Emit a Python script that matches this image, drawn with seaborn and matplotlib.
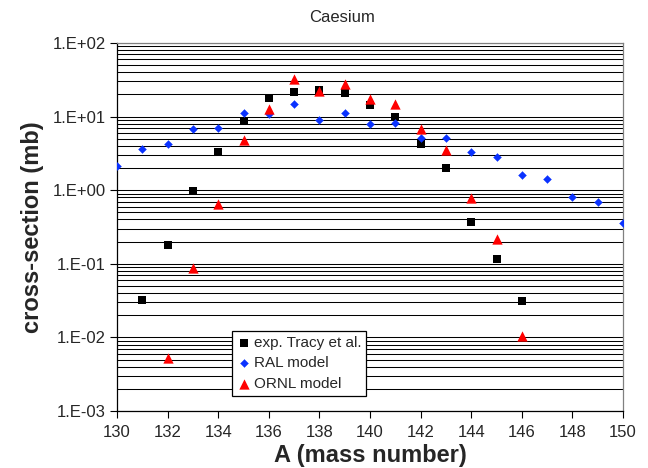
import numpy as np
import pandas as pd
import matplotlib
matplotlib.use("Agg")
import matplotlib.pyplot as plt
import matplotlib.ticker as mticker
import seaborn as sns

# ---- data ----
A_exp = [131, 132, 133, 134, 135, 136, 137, 138, 139, 140, 141, 142, 143, 144, 145, 146]
xs_exp = [0.0325, 0.18, 0.97, 3.3, 8.7, 17.7, 21.8, 23.0, 21.0, 14.4, 10.0, 4.25, 2.02, 0.366, 0.116, 0.0315]

A_ral = [130, 131, 132, 133, 134, 135, 136, 137, 138, 139, 140,
         141, 142, 143, 144, 145, 146, 147, 148, 149, 150]
xs_ral = [2.15, 3.6, 4.2, 6.7, 7.1, 11.3, 10.8, 14.7, 9.0, 11.1, 7.9,
          8.1, 5.2, 5.2, 3.3, 2.85, 1.59, 1.43, 0.81, 0.69, 0.362]

A_ornl = [132, 133, 134, 135, 136, 137, 138, 139, 140, 141, 142, 143, 144, 145, 146]
xs_ornl = [0.0052, 0.087, 0.65, 4.8, 12.6, 32.4, 22.5, 27.7, 17.3, 14.8, 6.85, 3.5, 0.78, 0.215, 0.0105]

labels = ["exp. Tracy et al.", "RAL model", "ORNL model"]
x_ticks = list(range(130, 151, 2))
title = "Caesium"
xlabel = "A (mass number)"
ylabel = "cross-section (mb)"

sns.set_style("white")
plt.rcParams['font.family'] = ['Liberation Sans', 'DejaVu Sans']

fig = plt.figure(figsize=(6.48, 4.68), dpi=100)
ax = fig.add_axes([117/648, 1 - 411/468, (623-117)/648, (411-43)/468])

df_exp = pd.DataFrame({"A": A_exp, "xs": xs_exp})
df_ral = pd.DataFrame({"A": A_ral, "xs": xs_ral})
df_ornl = pd.DataFrame({"A": A_ornl, "xs": xs_ornl})

sns.scatterplot(data=df_exp, x="A", y="xs", ax=ax, marker="s", s=40, color="black",
                edgecolor="black", linewidth=0, label=labels[0], zorder=3)
sns.scatterplot(data=df_ral, x="A", y="xs", ax=ax, marker="D", s=16, color="#0a32ff",
                edgecolor="#0a32ff", linewidth=0.3, label=labels[1], zorder=4)
sns.scatterplot(data=df_ornl, x="A", y="xs", ax=ax, marker="^", s=55, color="#ff0000",
                edgecolor="#ff0000", linewidth=0, label=labels[2], zorder=5)

ax.set_yscale("log")
ax.set_ylim(1e-3, 1e2)
ax.set_xlim(130, 150)
ax.set_xticks(x_ticks)
ax.set_xticklabels([str(t) for t in x_ticks])

ax.yaxis.set_major_locator(mticker.LogLocator(base=10, numticks=10))
ax.yaxis.set_minor_locator(mticker.LogLocator(base=10, subs=np.arange(2, 10), numticks=20))
ax.yaxis.set_major_formatter(mticker.FuncFormatter(lambda v, p: "1.E{:+03d}".format(int(round(np.log10(v))))))
ax.yaxis.set_minor_formatter(mticker.NullFormatter())

ax.grid(False)
ax.yaxis.grid(True, which="both", color="black", linewidth=0.75, zorder=0)
ax.set_axisbelow(True)

ax.tick_params(axis="both", which="major", direction="out", length=5, width=0.8,
               color="black", labelsize=12, pad=3, left=True, bottom=True)
ax.tick_params(axis="x", which="major", pad=5)
ax.tick_params(axis="y", which="minor", length=0)

for side in ["left", "bottom"]:
    ax.spines[side].set_color("black")
    ax.spines[side].set_linewidth(0.9)
for side in ["right", "top"]:
    ax.spines[side].set_color("#808080")
    ax.spines[side].set_linewidth(0.9)

ax.set_xlabel(xlabel, fontsize=17, fontweight="bold", labelpad=3)
ax.set_ylabel(ylabel, fontsize=17, fontweight="bold", labelpad=6)

fig.text(342/648, 1 - 17/468, title, ha="center", va="center", fontsize=12)

leg = ax.legend(loc="lower left", bbox_to_anchor=(0.227, 0.041), borderaxespad=0,
                frameon=True, fancybox=False, framealpha=1, edgecolor="black",
                fontsize=11, handletextpad=0.15, handlelength=1.0, labelspacing=0.45,
                borderpad=0.3, markerscale=1.0)
leg.get_frame().set_linewidth(0.9)

fig.savefig("out.png", dpi=100)
